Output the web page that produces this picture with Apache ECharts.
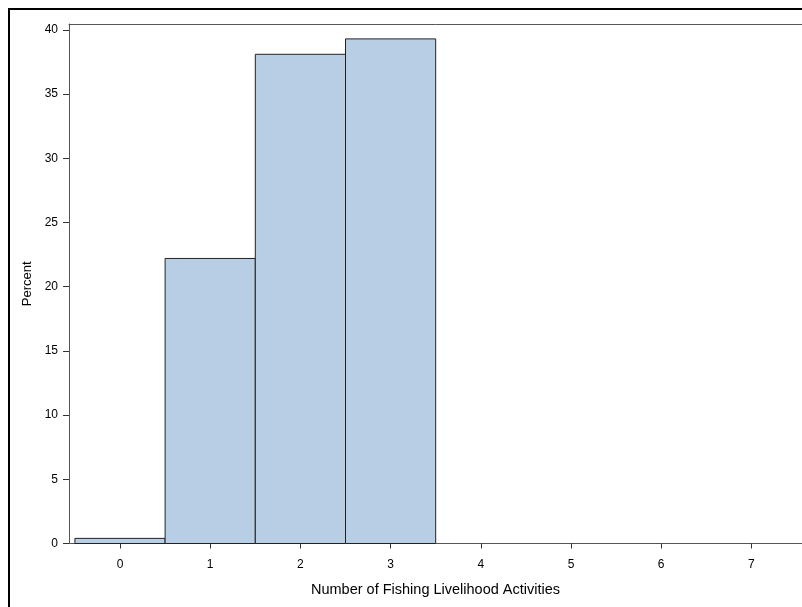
<!DOCTYPE html>
<html>
<head>
<meta charset="utf-8">
<script src="https://cdn.jsdelivr.net/npm/echarts@6/dist/echarts.min.js"></script>
<style>html,body{margin:0;padding:0;background:#fff}#c{width:802px;height:607px}</style>
</head>
<body>
<div id="c"></div>
<script>
var categories = [0, 1, 2, 3, 4, 5, 6, 7];
var percentValues = [0.4, 22.2, 38.1, 39.3, 0, 0, 0, 0];
var yTicks = [0, 5, 10, 15, 20, 25, 30, 35, 40];
var xTicks = [0, 1, 2, 3, 4, 5, 6, 7];

var chart = echarts.init(document.getElementById('c'), null, {renderer: 'canvas'});
var data = categories.map(function (c, i) { return [c, percentValues[i]]; });
var font = 'Liberation Sans, Arial, sans-serif';
var xMin = -0.5655, xMax = 7.561;

chart.setOption({
  animation: false,
  backgroundColor: '#fff',
  graphic: [{
    type: 'rect', z: 100, silent: true,
    shape: {x: 9, y: 9, width: 1000, height: 1000},
    style: {fill: 'none', stroke: '#000', lineWidth: 2}
  }],
  grid: {
    left: 69, top: 24, right: 0, bottom: 63.5,
    show: false, containLabel: false
  },
  xAxis: [{
    type: 'value', min: xMin, max: xMax,
    splitLine: {show: false},
    axisLine: {show: true, onZero: false, lineStyle: {color: '#555', width: 1}},
    axisTick: {show: true, inside: false, length: 5, lineStyle: {color: '#333', width: 1}, customValues: xTicks},
    axisLabel: {color: '#000', fontFamily: font, fontSize: 12, margin: 15, customValues: xTicks},
    name: 'Number of Fishing Livelihood Activities',
    nameLocation: 'middle', nameGap: 39,
    nameTextStyle: {color: '#000', fontFamily: font, fontSize: 14.5}
  }, {
    type: 'value', position: 'top', min: xMin, max: xMax,
    splitLine: {show: false},
    axisLine: {show: true, onZero: false, lineStyle: {color: '#555', width: 1}},
    axisTick: {show: false},
    axisLabel: {show: false}
  }],
  yAxis: {
    type: 'value', min: 0, max: 40.46,
    splitLine: {show: false},
    axisLine: {show: true, onZero: false, lineStyle: {color: '#555', width: 1}},
    axisTick: {show: true, inside: false, length: 6, lineStyle: {color: '#333', width: 1}, customValues: yTicks},
    axisLabel: {color: '#000', fontFamily: font, fontSize: 12, margin: 11, customValues: yTicks},
    name: 'Percent',
    nameLocation: 'middle', nameGap: 35, nameRotate: 90,
    nameTextStyle: {color: '#000', fontFamily: font, fontSize: 13}
  },
  series: [{
    type: 'custom',
    xAxisIndex: 0,
    data: data,
    renderItem: function (params, api) {
      var x = api.value(0), y = api.value(1);
      if (y <= 0) return null;
      var p0 = api.coord([x - 0.5, y]);
      var p1 = api.coord([x + 0.5, 0]);
      return {
        type: 'rect',
        shape: {x: p0[0], y: p0[1], width: p1[0] - p0[0], height: p1[1] - p0[1]},
        style: {fill: '#B8CEE5', stroke: '#222', lineWidth: 1}
      };
    }
  }]
});
</script>
</body>
</html>
